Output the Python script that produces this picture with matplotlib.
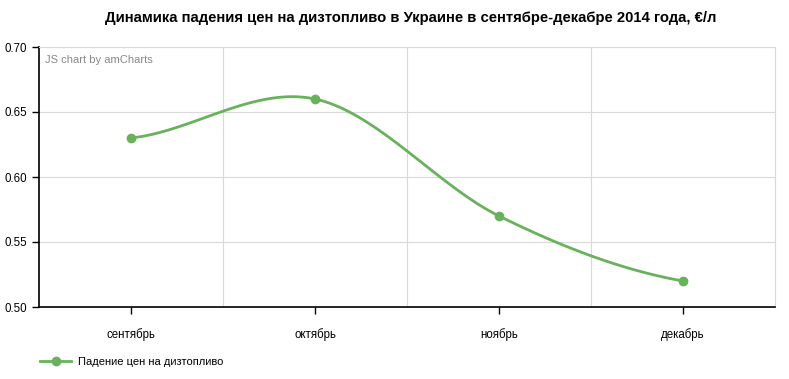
import matplotlib
matplotlib.use('AGG')
import matplotlib.pyplot as plt
import numpy as np
from matplotlib.lines import Line2D

plt.rcParams['font.family'] = ['Liberation Sans', 'DejaVu Sans']

months = ['сентябрь', 'октябрь', 'ноябрь', 'декабрь']
prices = [0.63, 0.66, 0.57, 0.52]
title = 'Динамика падения цен на дизтопливо в Украине в сентябре-декабре 2014 года, €/л'
series_name = 'Падение цен на дизтопливо'
green = '#67b25a'


def catmull_rom(x, y, n=40):
	# smooth line through points like amCharts smoothedLine
	x = np.asarray(x, float)
	y = np.asarray(y, float)
	px = np.concatenate([[2 * x[0] - x[1]], x, [2 * x[-1] - x[-2]]])
	py = np.concatenate([[y[0]], y, [y[-1]]])
	xs, ys = [], []
	for i in range(1, len(px) - 2):
		t = np.linspace(0, 1, n)
		for arr, out in ((px, xs), (py, ys)):
			p0, p1, p2, p3 = arr[i - 1], arr[i], arr[i + 1], arr[i + 2]
			out.extend(0.5 * (2 * p1 + (-p0 + p2) * t + (2 * p0 - 5 * p1 + 4 * p2 - p3) * t ** 2
			                  + (-p0 + 3 * p1 - 3 * p2 + p3) * t ** 3))
	return np.array(xs), np.array(ys)


fig = plt.figure(figsize=(7.89, 3.79), dpi=100)
ax = fig.add_axes([39 / 789, 72 / 379, 736 / 789, 260 / 379])

x = np.arange(len(months))
sx, sy = catmull_rom(x, prices)
ax.plot(sx, sy, color=green, lw=2)
ax.plot(x, prices, 'o', color=green, ms=6)

ax.set_xlim(-0.5, len(months) - 0.5)
ax.set_ylim(0.5, 0.7)
ax.set_yticks([0.5, 0.55, 0.6, 0.65, 0.7])
ax.set_yticklabels(['0.50', '0.55', '0.60', '0.65', '0.70'])
ax.set_xticks(x)
ax.set_xticklabels(months)
ax.set_xticks(np.arange(0.5, len(months) - 0.5, 1), minor=True)
ax.grid(False)
ax.yaxis.grid(True, color='#d9d9d9', lw=0.8)
ax.xaxis.grid(True, which='minor', color='#d9d9d9', lw=0.8)
ax.tick_params(axis='x', which='minor', length=0)
ax.tick_params(axis='both', which='major', labelsize=8.3, color='black', length=5, width=1)
ax.tick_params(axis='x', pad=10)
for s in ['top', 'right']:
	ax.spines[s].set_color('#d9d9d9')
	ax.spines[s].set_linewidth(0.8)
for s in ['left', 'bottom']:
	ax.spines[s].set_color('black')
	ax.spines[s].set_linewidth(1.2)

ax.text(0.008, 0.97, 'JS chart by amCharts', transform=ax.transAxes, fontsize=8,
	color='#888888', va='top', ha='left')

fig.text(0.521, 1 - 18 / 379, title, ha='center', va='center', fontsize=10.7, fontweight='bold')

handle = Line2D([], [], color=green, lw=2, marker='o', ms=6)
fig.legend([handle], [series_name], loc='center left', bbox_to_anchor=(30 / 789, 1 - 362 / 379),
	frameon=False, fontsize=8, handlelength=2.8, handletextpad=0.6)

plt.savefig('out.png', dpi=100)
